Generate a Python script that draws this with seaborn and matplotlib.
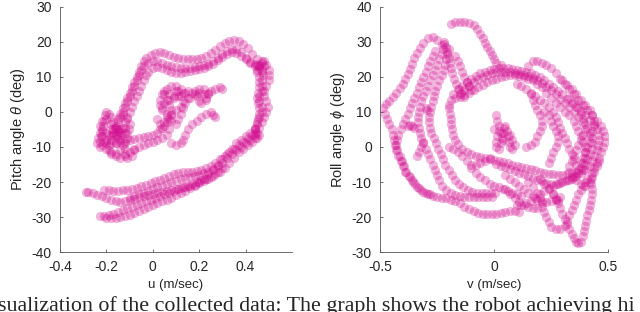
import numpy as np
import pandas as pd
import seaborn as sb
import matplotlib
matplotlib.use("Agg")
import matplotlib.pyplot as plt

# step 01: trajectories (pitch plot: u vs theta)
pitch_u_1 = [-0.17,-0.16,-0.15,-0.14,-0.13,-0.12,-0.11,-0.10,-0.09,-0.08,-0.07,-0.06,-0.05,-0.04,-0.02,0.00,0.02,0.04,
             0.06,0.08,0.10,0.12,0.14,0.16,0.18,0.20,0.22,0.24,0.26,0.28,0.30,0.32,0.34,0.36,0.38,0.40,0.42,0.44,0.45,
             0.46,0.46,0.46,0.455,0.45,0.455,0.46,0.46,0.455,0.45,0.44,0.43,
             0.41,0.39,0.37,0.35,0.33,0.31,0.29,0.27,0.25,0.23,0.21,0.19,0.17,0.15,0.13,0.11,0.09,0.07,0.05,0.03,0.01,
             -0.01,-0.03,-0.05,-0.07,-0.09,-0.11,-0.13,-0.15,-0.17,-0.19,-0.21]
pitch_t_1 = [-6,-4.5,-3,-1.5,0,1.5,3,4.5,6,7.5,9,10.5,12,13,14,14.5,14.5,14,
             13.5,13,12.8,12.6,12.5,12.5,12.7,13,13.3,13.8,14.5,15.5,16.5,17.5,18,18,17,15.5,14,13,11.5,
             10,8.5,7,5.5,4,2.5,1,-0.5,-2,-3.5,-5,-6.5,
             -7.5,-8.5,-9.5,-10.5,-11.5,-12.5,-13.5,-14.5,-15.5,-16,-16.5,-16.8,-17,-17,-17,-17.3,-17.8,-18.3,-18.8,-19.3,-19.8,
             -20.3,-20.8,-21.2,-21.6,-22,-22.2,-22.4,-22.5,-22.5,-22.4,-22.3]

pitch_u_2 = [-0.15,-0.14,-0.13,-0.12,-0.11,-0.10,-0.09,-0.08,-0.07,-0.06,-0.05,-0.04,-0.03,-0.01,0.01,0.03,0.05,0.07,0.09,
             0.11,0.13,0.15,0.17,0.19,0.21,0.23,0.25,0.27,0.29,0.31,0.33,0.35,0.37,0.39,0.41,0.43,0.45,0.47,0.49,0.50,
             0.50,0.50,0.49,0.48,0.48,0.49,0.495,0.49,0.48,0.47,0.46,0.45,0.44,0.43,
             0.41,0.39,0.37,0.35,0.33,0.31,0.29,0.27,0.25,0.23,0.21,0.19,0.17,0.15,0.13,0.11,0.09,0.07,0.05,0.03,0.01,
             -0.01,-0.03,-0.05,-0.07,-0.09,-0.11,-0.13,-0.15,-0.17,-0.19,-0.21,-0.23]
pitch_t_2 = [-2,-0.5,1,2.5,4,5.5,7,8.5,10,11.5,13,14.5,15.5,16.3,16.8,17,16.8,16.3,15.8,
             15.4,15.2,15,15,15.2,15.5,16,16.8,17.8,18.8,19.6,20.2,20.4,20.2,19.5,18.2,16.5,15.2,14.5,13.5,12,
             10.5,9,7.5,6,4.5,3,1.5,0,-1.5,-3,-4.5,-6,-7.5,-8.5,
             -9.5,-10.5,-11.5,-13,-14.5,-16,-17,-17.8,-18.5,-19,-19.5,-20,-20.5,-21,-21.5,-22,-22.5,-23,-23.5,-24,-24.5,
             -25,-25.5,-26,-26.5,-27,-27.5,-28,-28.5,-29,-29.5,-29.8,-29.6]

pitch_u_3 = [-0.16,-0.15,-0.14,-0.13,-0.12,-0.11,-0.10,-0.09,-0.08,-0.07,-0.06,-0.05,-0.04,-0.03,-0.02,0.00,0.02,0.04,
             0.06,0.08,0.10,0.12,0.14,0.16,0.18,0.20,0.22,0.24,0.26,0.28,0.30,0.32,0.34,0.36,0.38,0.40,0.42,0.44,0.46,0.47,
             0.475,0.47,0.47,0.47,0.46,0.46,0.47,0.47,0.46,0.45,0.44,0.42,0.40,0.38,0.36,
             0.34,0.32,0.30,0.28,0.26,0.24,0.22,0.20,0.18,0.16,0.14,0.12,0.10,0.08,0.06,0.04,0.02,0.00,
             -0.02,-0.04,-0.06,-0.08,-0.10,-0.12,-0.14,-0.16,-0.18,-0.20]
pitch_t_3 = [-9,-7.5,-6,-4.5,-3,-1.5,0,1.5,3,4.5,6,7.5,9,10.5,11.5,12.5,12.8,12.5,
             12,11.5,11.2,11.2,11.5,11.8,12,12.2,12.5,13,13.8,14.8,15.8,16.6,17,16.8,16,15,14.2,13.8,13.5,12,
             10.5,9,7.5,6,4.5,3,1.5,0,-1.5,-3,-4.5,-6,-7,-8,-9,
             -10.5,-12,-13.5,-15,-16.5,-17.8,-19,-20,-21,-21.8,-22.5,-23.2,-23.8,-24.5,-25,-25.5,-26,-26.5,
             -27,-27.7,-28.3,-28.8,-29.3,-29.7,-30,-30.2,-30.3,-30.4]

pitch_u_4 = [0.30,0.28,0.26,0.24,0.22,0.20,0.18,0.16,0.14,0.12,0.10,0.08,0.06,0.04,0.02,0.00,
             -0.02,-0.04,-0.06,-0.08,-0.10,-0.12,-0.14,-0.16,-0.18,-0.20,-0.22,-0.24,-0.26,-0.28,-0.29]
pitch_t_4 = [-16,-17.2,-18.2,-19,-19.7,-20.3,-20.8,-21.2,-21.5,-21.8,-22,-22.3,-22.5,-22.8,-23,-23.3,
             -23.6,-24,-24.4,-24.8,-25.2,-25.5,-25.6,-25.4,-25,-24.5,-24,-23.6,-23.2,-22.9,-22.8]

pitch_u_5 = [-0.23,-0.23,-0.225,-0.22,-0.215,-0.21,-0.205,-0.20,-0.19,-0.18,-0.17,-0.16,-0.15,-0.16,-0.18,-0.20,-0.22,
             -0.23,-0.22,-0.20,-0.18,-0.17,-0.17,-0.18,-0.19,-0.19,-0.18,-0.16,-0.14,-0.13,-0.14,-0.15,-0.14,-0.12,
             -0.11,-0.11,-0.12,-0.12,-0.12,-0.11,-0.09,-0.08,
             -0.24,-0.235,-0.23,-0.22,-0.21,-0.20,-0.19,-0.18,-0.165,-0.15,-0.135,-0.12,-0.105,-0.10,-0.11,-0.13]
pitch_t_5 = [-10,-8.5,-7,-5.5,-4,-2.5,-1,0,-0.5,-1.5,-3,-4,-5,-6.5,-7,-6,-5,
             -4,-2.5,-2,-3.5,-5,-6.5,-8,-9.5,-11,-12,-12,-11,-9.5,-8,-6.5,-5,-4.5,
             -6,-7.5,-9,-10.5,-12,-13,-12.5,-11,
             -9,-7.5,-6,-7,-8.5,-8,-6.5,-5,-4.5,-5.5,-6.5,-6,-5,-3.5,-2,-1]

pitch_u_6 = [-0.20,-0.18,-0.16,-0.14,-0.12,-0.10,-0.08,-0.06,-0.04,-0.02,0.00,0.02,0.03,0.05,0.06,0.07,0.08,0.08,
             0.07,0.06,0.05,0.06,0.08,0.10,0.11,0.12,0.13,0.12,0.10,0.08,0.06,0.04,0.03,0.03,0.04,0.05,0.07,0.09,
             0.11,0.13,0.15,0.17,0.19,0.20,0.21,0.23,0.24,0.25,0.27,0.29,0.30,
             0.02,0.03,0.04,0.05,0.06,0.08,0.10,0.11,0.12,0.13,0.14,0.15,0.14,0.12,0.10,0.09,0.07,0.05,0.04,
             0.16,0.18,0.20,0.22,0.23,0.24,0.22,0.20,0.18]
pitch_t_6 = [-9,-9,-8.8,-8.5,-8.3,-8,-7.8,-7.5,-7.2,-7,-6.5,-6,-5,-4,-3,-2,-1,0.5,
             2,3.5,5,6.5,7.5,7.5,6,4.5,3,1.5,0.5,-0.5,-0.5,0.5,2,3.5,5,6,5,4,
             4.5,5.5,6,5.5,4.5,3,2.5,3.5,5,6,6.5,7,6.5,
             -2,-3.5,-4.5,-3,-1.5,-2.5,-3.5,-2,-0.5,1,2.5,4,5.5,6.5,6,4.5,3.5,2.5,1,
             4,5,5.5,5,4,5.5,6.5,6.5,6]

pitch_u_7 = [0.27,0.26,0.25,0.23,0.21,0.19,0.17,0.15,0.14,0.13,0.12,0.10,0.08,
             -0.22,-0.20,-0.18,-0.16,-0.14,-0.12,-0.10,-0.08,-0.06,-0.04,-0.02,0.00,0.02,0.04,0.06,0.07]
pitch_t_7 = [-1.5,-1,0,-0.5,-1.5,-2.5,-3.5,-5,-6.5,-8,-9,-9.5,-9,
             -9.5,-10.5,-11.5,-12.5,-13,-12.5,-11.5,-10.5,-10,-9.5,-9,-8.5,-8,-7.5,-6.5,-5]

pitch_u_8 = [0.44,0.42,0.40,0.38,0.36,0.34,0.32,0.30,0.28,0.26,0.24,0.22,0.20,0.18,0.16,0.14,0.12,0.10,0.08,0.06,
             0.04,0.02,0.00,-0.02,-0.04,-0.06,-0.08,-0.10,
             0.45,0.46,0.47,0.48,0.48,0.47,0.46,0.45,0.44,0.44,0.45,0.46]
pitch_t_8 = [-6,-8,-9,-10,-11,-12,-13,-14.5,-15.5,-16.3,-17,-17.5,-18,-18.3,-18.5,-18.8,-19.2,-19.6,-20,-20.5,
             -21,-21.5,-22,-22.5,-23,-23.5,-24,-24.5,
             12,13,14,14.5,13,11.5,12.5,13.5,-5,-6.5,-7.5,-6.5]

# roll plot: v vs phi
roll_v_1 = [-0.23,-0.25,-0.27,-0.29,-0.31,-0.325,-0.34,-0.35,-0.36,-0.37,-0.38,-0.39,-0.40,-0.415,-0.43,-0.445,
            -0.46,-0.475,-0.487,-0.48,-0.47,-0.46,-0.45,-0.445,-0.44,-0.435,-0.43,-0.42,-0.41,-0.40,-0.39,-0.375,
            -0.36,-0.345,-0.33,-0.31,-0.29,-0.27,-0.25,-0.23,-0.21,-0.19,-0.17,-0.15,-0.13,-0.11,-0.09,-0.07,-0.05,
            -0.03,-0.01,0.01,0.03,0.05,0.07,0.09,0.11]
roll_p_1 = [29,30.5,31.3,31,29.8,28.3,26.8,25.3,23.8,22.3,20.8,19.3,18,16.8,15.5,14.3,
            13.2,12.2,11,9.5,8,6.5,5,3.5,2,0.5,-1,-2.5,-4,-5.5,-7,-8.3,
            -9.5,-10.7,-11.8,-12.8,-13.5,-14,-14.3,-14.5,-14.7,-15,-15.3,-16,-17,-17.8,-18.4,-18.8,-19,
            -19.2,-19.2,-19,-18.8,-18.6,-18.4,-18.3,-18.5]

roll_v_2 = [-0.19,-0.17,-0.15,-0.13,-0.11,-0.09,-0.075,-0.06,-0.05,-0.04,-0.03,-0.02,-0.01,0.00,0.01,0.03]
roll_p_2 = [35.2,35.6,35.8,35.7,35.3,34.7,33.7,32.3,31,29.7,28.5,27.3,26.2,25,24,23.5]

roll_v_3 = [-0.20,-0.19,-0.18,-0.16,-0.14,-0.12,-0.10,-0.08,-0.06,-0.04,-0.02,0.00,0.02,0.04,0.06,0.08,0.10,0.12,
            0.14,0.16,0.18,0.20,0.22,0.24,0.26,0.28,0.30,0.32,0.34,0.36,0.38,0.40,0.42,0.44,0.45,0.46,0.46,0.455,
            0.45,0.44,0.43,0.42,0.40,0.38,0.36,0.34,0.32,0.30,0.28,0.26,0.24,0.22,0.20,0.18,0.16,0.14,0.12,0.10]
roll_p_3 = [12,13.5,15,16.5,17.5,18.5,19.5,20.3,21,21.5,22,22.3,22.5,22.5,22.5,22.3,22,21.7,
            21.5,21,20.5,20,19,18,17,16,15,13.8,12.6,11.5,10.3,9,7.8,6.5,5,3.5,2,0.5,
            -1,-2.5,-4,-5.5,-6.5,-7.5,-8.3,-9,-9.5,-10,-10.5,-11,-11.8,-12.5,-13.5,-14.5,-15.5,-16,-16.5,-16.5]

roll_v_4 = [-0.20,-0.195,-0.19,-0.19,-0.185,-0.18,-0.17,-0.16,-0.14,-0.12,-0.10,-0.08,-0.06,-0.04,-0.02,0.00,
            0.02,0.04,0.06,0.08,0.10,0.12,0.14,0.16,0.18,0.20,0.22,0.24,0.26,0.28,0.30,0.32,0.34,0.36,0.38,0.39,
            0.40,0.40,0.40,0.39,0.38,0.37,0.36,0.35,0.33,0.31,0.29,0.27,0.25,0.23,0.21,0.19,0.17,0.15,0.13,0.11,
            0.09,0.07,0.05,0.03,0.01,-0.01,-0.03,-0.05,-0.07,-0.09,-0.11,-0.13,-0.15,-0.17]
roll_p_4 = [11,9.5,8,6.5,5,3.5,2,0.8,-0.5,-1.5,-2,-2.5,-2.8,-3,-3.3,-3.6,
            -4,-4.3,-4.6,-5,-5.3,-5.6,-6,-6.3,-6.6,-7,-7.3,-7.6,-7.8,-8,-8,-7.8,-7.5,-7,-6,-4.5,
            -3,-1.5,0,1.5,3,4.5,6,7.5,9,10,11.3,12.5,14,15.5,17,18,19,19.5,20,20.3,
            20.5,20.5,20.3,20,19.5,19,18.5,17.8,17,16.3,15.5,14.8,14.3,14]

roll_v_5 = [0.15,0.17,0.19,0.21,0.23,0.25,0.27,0.29,0.31,0.33,0.35,0.37,0.39,0.41,0.43,0.45,0.47,0.48,0.485,
            0.485,0.48,0.47,0.46,0.45,0.44,0.43,0.425,0.425,0.43,0.43,0.425,0.42,0.415,0.41,0.405,0.40,0.395,
            0.39,0.38,0.37,0.36,0.35,0.34,0.33,0.32,0.31,0.30,0.29,0.28,0.27,0.26]
roll_p_5 = [23,24.5,24.5,24,23.5,22.5,21,19.5,18,16.5,15,13.5,12,10.5,9,7.5,6,4.5,3,
            1.5,0,-1.5,-3,-4.5,-6,-7.5,-9,-10.5,-12,-13.5,-15,-16.5,-18,-19.5,-21,-22.5,-24,
            -25.5,-27,-27.5,-27,-26,-24.8,-23.5,-22,-20.5,-19,-17.5,-16,-14.8,-13.5]

roll_v_6 = [0.05,0.07,0.09,0.11,0.13,0.15,0.17,0.19,0.21,0.22,0.23,0.24,0.25,0.27,0.29,0.31,0.32,0.33,0.34,
            0.35,0.36,0.37,0.38,0.39,0.40,0.41]
roll_p_6 = [-12,-13.3,-14.6,-15.6,-16.5,-17.2,-17.5,-17.5,-17,-18.5,-20,-21.5,-22.8,-23.5,-23.5,-22.5,-21,-19.5,-18,
            -16.5,-15,-13.5,-12.2,-11,-10,-9]

roll_v_7 = [-0.26,-0.27,-0.28,-0.29,-0.30,-0.31,-0.32,-0.33,-0.34,-0.35,-0.36,-0.37,-0.38,-0.39,-0.40,-0.41,
            -0.42,-0.425,-0.43,-0.425,-0.415,-0.405,-0.395,-0.385,-0.37,-0.355,-0.34,-0.32,-0.30,-0.28]
roll_p_7 = [27.5,26,24.5,23,21.5,20,18.5,17,15.5,14,12.5,11,9.5,8,6.5,5,
            3.5,2,0.5,-1,-2.5,-4,-5.5,-7,-8.5,-10,-11.3,-12.3,-13,-13.5]

roll_v_8 = [-0.22,-0.225,-0.23,-0.24,-0.25,-0.26,-0.27,-0.28,-0.29,-0.30,-0.31,-0.32,-0.325,-0.33,-0.335,-0.335,
            -0.33,-0.325,-0.32,-0.31,-0.30,-0.29,-0.28,-0.27,-0.26,-0.25,-0.24,-0.23,-0.21,-0.19,-0.17,-0.15,-0.13,
            -0.11,-0.09,-0.07,-0.05,-0.03,-0.01]
roll_p_8 = [29.5,28,26.5,25,23.5,22,20.5,19,17.5,16,14.5,13,11.5,10,8.5,7,
            5.5,4,2.5,1,-0.5,-2,-3.5,-5,-6.5,-8,-9.5,-11,-12.3,-13.2,-13.7,-14,-14.2,
            -14.3,-14.3,-14.2,-14.2,-14.2,-14.2]

roll_v_9 = [-0.20,-0.205,-0.21,-0.215,-0.22,-0.23,-0.24,-0.25,-0.26,-0.265,-0.27,-0.275,-0.28,-0.285,-0.285,
            -0.28,-0.275,-0.265,-0.255,-0.245,-0.235,-0.225,-0.215,-0.20,-0.185,-0.17,-0.155,-0.135,-0.115,-0.095,
            -0.075,-0.055,-0.035,-0.015,0.005]
roll_p_9 = [28,26.5,25,23.5,22,20.5,19,17.5,16,14.5,13,11.5,10,8.5,7,
            5.5,4,2.5,1,-0.5,-2,-3.5,-5,-6.5,-8,-9.3,-10.5,-11.5,-12.3,-12.8,
            -13,-13.2,-13.2,-13.2,-13]

roll_v_10 = [-0.38,-0.37,-0.36,-0.35,-0.30,-0.295,-0.31,-0.32,-0.33,-0.34,
             -0.20,-0.18,-0.16,-0.14,-0.12,-0.10,-0.08,-0.06,-0.04,-0.02,
             0.01,0.015,0.02,0.02,0.015,0.01,0.01,0.02,0.03,0.035,0.04,0.045,0.05,0.055,0.06,0.065,0.07,0.08,
             0.09,0.08,0.07,0.04,0.03,0.00]
roll_p_10 = [6,6.2,6,5.5,11,10.5,1.5,0,-1.5,-2.5,
             0,-0.5,-1.5,-2.5,-4,-5,-5,-4.5,-4,-3,
             9,7.5,6,4.5,3,1.5,0,-0.5,1,2.5,4,5.5,6,4.5,3,1.5,0,-0.5,
             0.5,2,3.5,2,4,5]

roll_v_11 = [0.10,0.12,0.14,0.16,0.18,0.20,0.22,0.24,0.26,0.27,0.28,0.29,0.30,0.31,0.32,0.33,0.34,0.35,0.36,0.37,
             0.22,0.24,0.25,0.26,0.27,0.28,0.28,0.27,0.26,0.25,0.24,
             0.30,0.32,0.34,0.36,0.38,0.40,0.42,0.43,0.44,0.44,0.43,0.42,0.42,0.41,0.40,0.39,0.38,
             0.16,0.17,0.18,0.19,0.20,0.21,0.21,0.20,0.19,0.18,0.16,0.14]
roll_p_11 = [18,17.3,16.5,15.5,14.5,13.5,12.5,11.3,10,8.5,7,5.5,4,2.5,1,-0.5,-2,-3.5,-5,-6.5,
             10,9,7.5,6,4.5,3,1.5,0,-1.5,-3,-4.5,
             19,17.8,16.5,15,13.5,12,10.5,9,7.5,6,4.5,3,1.5,0,-1.5,-3,-4.5,
             15,13.5,12,10.5,9,7.5,6,4.5,3,1.5,0.5,0]

roll_v_12 = [-0.10,-0.08,-0.06,-0.04,-0.02,0.00,0.02,0.04,0.06,0.08,0.10,0.12,
             0.20,0.22,0.24,0.26,0.28,0.15,0.17,0.19,0.20,0.21,
             -0.22,-0.21,-0.205,-0.20,-0.195,-0.19,-0.185,-0.175,-0.165,-0.155,-0.145,-0.13,
             -0.17,-0.16,-0.15,-0.14,-0.13,-0.12,-0.11,-0.10]
roll_p_12 = [-6,-7.5,-8.5,-9.5,-10.5,-11,-11.5,-12,-12.5,-13,-13.5,-14,
             -9,-10.5,-12,-13.5,-15,-10,-11.5,-13,-14.5,-16,
             30,28.5,27,25.5,24,22.5,21,19.5,18,16.5,15.3,14.3,
             26,24.5,23,21.5,20,18.5,17.3,16.3]

roll_v_13 = [-0.15,-0.13,-0.11,-0.09,-0.07,-0.05,-0.03,-0.01,0.01,0.03,0.05,0.07,0.09,0.11,0.13,0.15,0.17,0.19,
             0.21,0.23,0.25,0.27,0.29,0.31,0.33,0.35,0.37,0.39,0.41,0.42,0.43,0.43,0.43,0.42,0.41,0.40,0.39,0.37,
             0.35,0.33,0.31,0.29,0.27,0.25,0.23,0.21,0.19,0.17,0.15,0.13,0.11,0.09,0.07,0.05,0.03,0.01]
roll_p_13 = [15,16.3,17.5,18.5,19.3,20,20.5,21,21.3,21.5,21.5,21.3,21,20.8,20.5,20.2,19.7,19,
             18.2,17.2,16.2,15,13.8,12.5,11.3,10,8.5,7,5.5,4,2.5,1,-0.5,-2,-3.5,-5,-6.5,-7.5,
             -8.5,-9.3,-9.8,-10.3,-10.5,-10.5,-10.2,-9.8,-9.3,-8.8,-8.3,-7.8,-7.3,-6.8,-6.3,-5.8,-5.3,-4.8]

roll_v_14 = [0.33,0.35,0.37,0.38,0.39,0.40,0.40,0.39,0.38,0.37,0.36,0.35,0.34,0.33,0.33,0.34,0.36,0.38,0.40,
             0.42,0.43,0.44,0.45,0.46,
             0.05,0.07,0.09,0.11,0.13,0.15,0.17,0.19,0.21,0.23,0.25,0.27,0.29]
roll_p_14 = [14,12.5,11,9.5,8,6.5,5,3.5,2,0.5,-1,-2.5,-4,-5.5,-7,-8.5,-9.5,-10.5,-11,
             -10,-8.5,-7,-5.5,-4,
             -8,-9,-10,-11,-12,-13,-14,-15,-15.5,-15.8,-15.5,-15,-14.3]

pitch_u = [pitch_u_1, pitch_u_2, pitch_u_3, pitch_u_4, pitch_u_5, pitch_u_6, pitch_u_7, pitch_u_8]
pitch_t = [pitch_t_1, pitch_t_2, pitch_t_3, pitch_t_4, pitch_t_5, pitch_t_6, pitch_t_7, pitch_t_8]
roll_v = [roll_v_1, roll_v_2, roll_v_3, roll_v_4, roll_v_5, roll_v_6, roll_v_7, roll_v_8, roll_v_9,
          roll_v_10, roll_v_11, roll_v_12, roll_v_13, roll_v_14]
roll_p = [roll_p_1, roll_p_2, roll_p_3, roll_p_4, roll_p_5, roll_p_6, roll_p_7, roll_p_8, roll_p_9,
          roll_p_10, roll_p_11, roll_p_12, roll_p_13, roll_p_14]

pitch_df = pd.DataFrame({'u': np.concatenate(pitch_u), 'theta': np.concatenate(pitch_t)})
roll_df = pd.DataFrame({'v': np.concatenate(roll_v), 'phi': np.concatenate(roll_p)})

# step 02: style
sb.set_style("ticks")
plt.rcParams['font.family'] = ['Liberation Sans Narrow', 'Liberation Sans', 'DejaVu Sans']
plt.rcParams['axes.unicode_minus'] = False
plt.rcParams['mathtext.fontset'] = 'custom'
plt.rcParams['mathtext.it'] = 'Liberation Sans:italic'

dot_color = '#d1068b'
label_font = ['Liberation Sans', 'DejaVu Sans']
fig = plt.figure(figsize=(6.4, 3.12), dpi=100)
ax1 = fig.add_axes([0.094, 0.192, 0.362, 0.786])
ax2 = fig.add_axes([0.594, 0.192, 0.356, 0.786])

sb.scatterplot(data=pitch_df, x='u', y='theta', ax=ax1, color=dot_color, alpha=0.3, s=44, linewidth=0)
sb.scatterplot(data=roll_df, x='v', y='phi', ax=ax2, color=dot_color, alpha=0.3, s=44, linewidth=0)

ax1.set_xlim(-0.4, 0.6)
ax1.set_ylim(-40, 30)
ax1.set_xticks([-0.4, -0.2, 0, 0.2, 0.4])
ax1.set_xticklabels(['-0.4', '-0.2', '0', '0.2', '0.4'])
ax1.set_yticks(range(-40, 31, 10))
ax1.set_xlabel('u (m/sec)', fontsize=9.5, labelpad=3)
ax1.set_ylabel(r'Pitch angle $\theta$ (deg)', fontsize=10.5, family=label_font, labelpad=3)

ax2.set_xlim(-0.5, 0.5)
ax2.set_ylim(-30, 40)
ax2.set_xticks([-0.5, 0, 0.5])
ax2.set_xticklabels(['-0.5', '0', '0.5'])
ax2.set_yticks(range(-30, 41, 10))
ax2.set_xlabel('v (m/sec)', fontsize=9.5, labelpad=3)
ax2.set_ylabel(r'Roll angle $\phi$ (deg)', fontsize=10.5, family=label_font, labelpad=3)

for ax in (ax1, ax2):
    sb.despine(ax=ax)
    for side in ('left', 'bottom'):
        ax.spines[side].set_color('#555555')
        ax.spines[side].set_linewidth(0.6)
    ax.tick_params(direction='in', length=2.5, width=0.6, color='#555555', labelsize=10, pad=6)

# caption fragment, cut off at the bottom edge as in the source picture
fig.text(-0.003, 0.004, 'sualization of the collected data: The graph shows the robot achieving hi',
         family=['Liberation Serif', 'DejaVu Serif'], fontsize=15.8, va='baseline', ha='left')

plt.savefig('out.png', dpi=100)
